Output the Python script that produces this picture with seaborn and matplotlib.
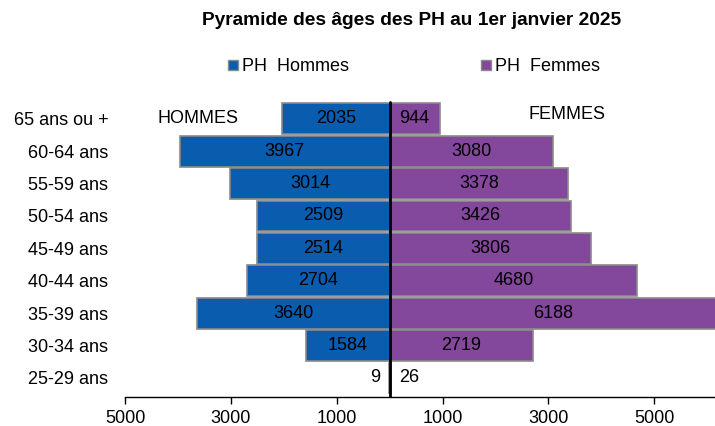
import numpy as np
import pandas as pd
import matplotlib
matplotlib.use("Agg")
import matplotlib.pyplot as plt
import matplotlib.ticker as mticker
from matplotlib.patches import Patch
import seaborn as sns

### Data
ages = ['65 ans ou +', '60-64 ans', '55-59 ans', '50-54 ans', '45-49 ans',
        '40-44 ans', '35-39 ans', '30-34 ans', '25-29 ans']
hommes = [2035, 3967, 3014, 2509, 2514, 2704, 3640, 1584, 9]
femmes = [944, 3080, 3378, 3426, 3806, 4680, 6188, 2719, 26]
xticks = [-5000, -3000, -1000, 1000, 3000, 5000]

blue = '#0A5CAE'
purple = '#83479B'

df = pd.DataFrame({'age': ages, 'hommes': hommes, 'femmes': femmes})
df['hommes_neg'] = -df['hommes']

sns.set_style('white')
plt.rcParams['font.family'] = ['Liberation Sans', 'DejaVu Sans']
plt.rcParams['text.color'] = 'black'
plt.rcParams['xtick.color'] = 'black'
plt.rcParams['ytick.color'] = 'black'

fig = plt.figure(figsize=(7.15, 4.26), dpi=100)
ax = fig.add_axes([0.175, 0.068, 0.825, 0.695])

sns.barplot(data=df, x='hommes_neg', y='age', order=ages, color=blue, orient='h',
            width=0.95, edgecolor='#8a8a8a', linewidth=1.2, saturation=1, ax=ax)
sns.barplot(data=df, x='femmes', y='age', order=ages, color=purple, orient='h',
            width=0.95, edgecolor='#8a8a8a', linewidth=1.2, saturation=1, ax=ax)

### value labels, centred in bars (small ones next to the axis)
for i, (h, f) in enumerate(zip(hommes, femmes)):
    if h > 300:
        ax.text(-h / 2, i, str(h), ha='center', va='center', fontsize=13)
    else:
        ax.text(-180, i, str(h), ha='right', va='center', fontsize=13)
    if f > 300:
        ax.text(f / 2, i, str(f), ha='center', va='center', fontsize=13)
    else:
        ax.text(180, i, str(f), ha='left', va='center', fontsize=13)

ax.axvline(0, ymin=0, ymax=0.995, color='black', lw=2, zorder=5)

ax.set_xlim(-5000, 6150)
ax.set_ylim(8.59, -0.55)
ax.set_xticks(xticks)
ax.xaxis.set_major_formatter(mticker.FuncFormatter(lambda v, p: f'{abs(int(v))}'))
ax.tick_params(axis='x', direction='out', length=5, width=1, colors='black',
               labelsize=13, pad=4, bottom=True)
ax.tick_params(axis='y', length=0, labelsize=13, pad=12)
ax.set_xlabel('')
ax.set_ylabel('')
for s in ['top', 'right', 'left']:
    ax.spines[s].set_visible(False)
ax.spines['bottom'].set_color('black')
ax.spines['bottom'].set_linewidth(1)

ax.text(-3620, 0, 'HOMMES', ha='center', va='center', fontsize=13)
ax.text(3360, -0.12, 'FEMMES', ha='center', va='center', fontsize=13)

fig.text(0.575, 0.953, 'Pyramide des âges des PH au 1er janvier 2025',
         ha='center', va='center', fontsize=13.8, fontweight='bold')

handles = [Patch(facecolor=blue, edgecolor='#8a8a8a'),
           Patch(facecolor=purple, edgecolor='#8a8a8a')]
fig.legend(handles, ['PH  Hommes', 'PH  Femmes'], loc='center', ncol=2,
           bbox_to_anchor=(0.579, 0.843), frameon=False, fontsize=13,
           handlelength=0.55, handleheight=0.55, handletextpad=0.25, columnspacing=7.3)

fig.savefig('out.png', dpi=100)
